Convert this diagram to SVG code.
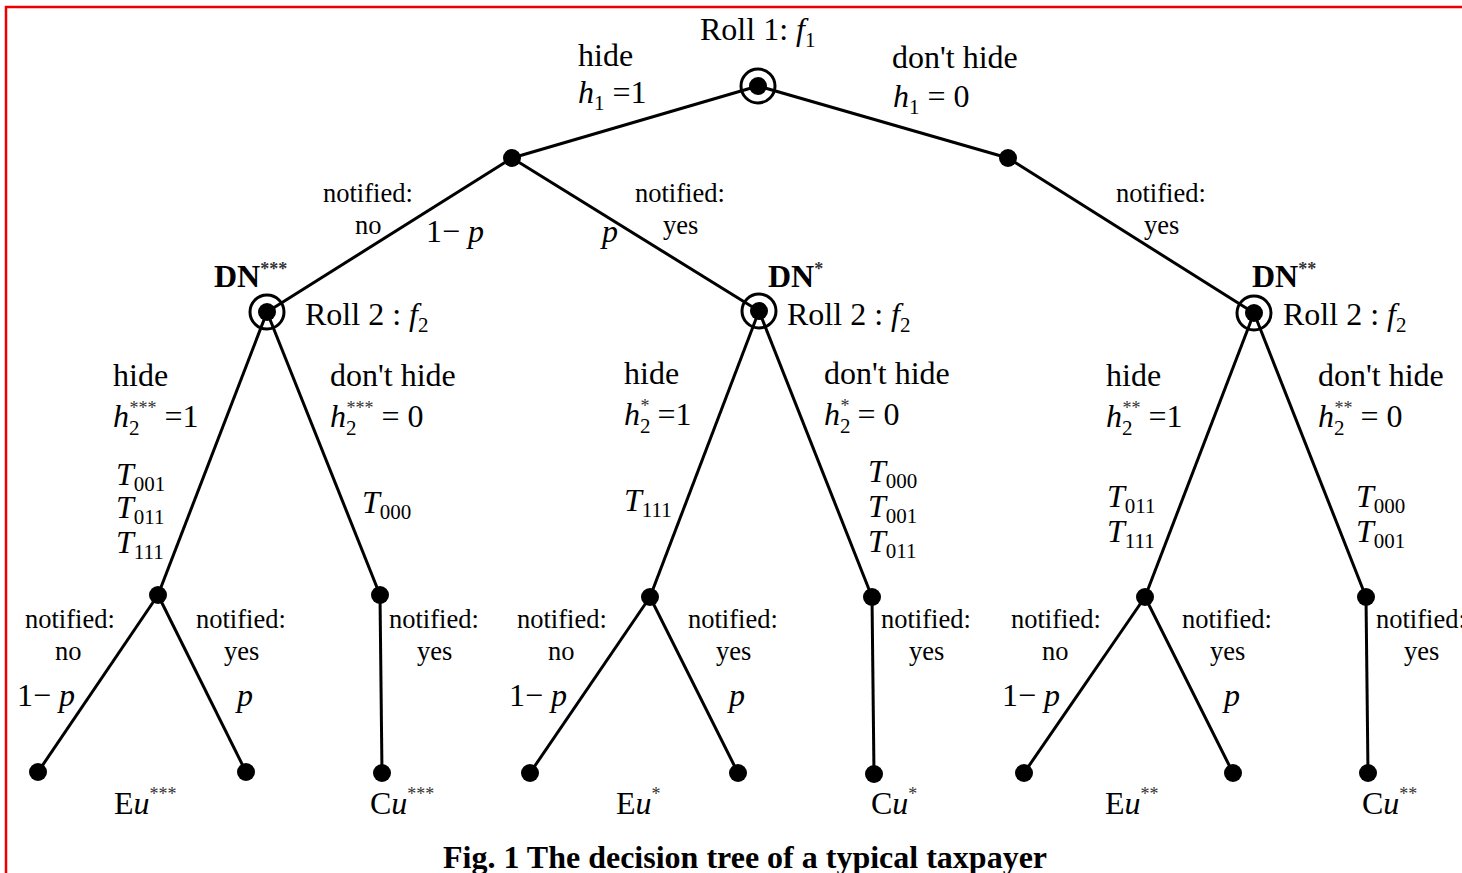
<svg xmlns="http://www.w3.org/2000/svg" width="1462" height="873" viewBox="0 0 1462 873">
<style>
.t{font-family:"Liberation Serif","Times New Roman",serif;font-size:32px;fill:#000}
.n{font-family:"Liberation Serif","Times New Roman",serif;font-size:26.5px;fill:#000}
.i{font-style:italic}
.sub{font-size:21px}
.sup{font-size:18px;fill:#333}
.b{font-weight:bold}
.e line{stroke:#000;stroke-width:3;fill:none}
.dot{fill:#000}
.ring{fill:none;stroke:#000;stroke-width:3}
</style>
<rect x="6" y="7" width="1470" height="880" fill="#fff" stroke="#e00" stroke-width="2.5"/>
<g id="connectors" class="e">
<line x1="758" y1="86" x2="512" y2="158"/>
<line x1="758" y1="86" x2="1008" y2="158"/>
<line x1="512" y1="158" x2="267" y2="312"/>
<line x1="512" y1="158" x2="759" y2="311"/>
<line x1="1008" y1="158" x2="1254" y2="313"/>
<line x1="267" y1="312" x2="158" y2="595"/>
<line x1="267" y1="312" x2="380" y2="595"/>
<line x1="158" y1="595" x2="38" y2="772"/>
<line x1="158" y1="595" x2="246" y2="772"/>
<line x1="380" y1="595" x2="382" y2="773"/>
<line x1="759" y1="311" x2="650" y2="597"/>
<line x1="759" y1="311" x2="872" y2="597"/>
<line x1="650" y1="597" x2="530" y2="773"/>
<line x1="650" y1="597" x2="738" y2="773"/>
<line x1="872" y1="597" x2="874" y2="774"/>
<line x1="1254" y1="313" x2="1145" y2="597"/>
<line x1="1254" y1="313" x2="1366" y2="597"/>
<line x1="1145" y1="597" x2="1024" y2="773"/>
<line x1="1145" y1="597" x2="1233" y2="773"/>
<line x1="1366" y1="597" x2="1368" y2="773"/>
</g>
<g id="root"><circle class="ring" cx="758" cy="86" r="17"/><circle class="dot" cx="758" cy="86" r="9"/>
<text class="t" x="700" y="40">Roll 1: <tspan class="i">f</tspan><tspan class="sub" dy="7">1</tspan></text></g>
<g id="nA"><circle class="dot" cx="512" cy="158" r="9"/></g>
<g id="nB"><circle class="dot" cx="1008" cy="158" r="9"/></g>
<g id="dn3"><circle class="ring" cx="267" cy="312" r="17"/><circle class="dot" cx="267" cy="312" r="9"/>
<text class="t b" x="214" y="287">DN<tspan class="sup" dy="-12">***</tspan></text>
<text class="t" x="305" y="325">Roll 2 : <tspan class="i">f</tspan><tspan class="sub" dy="7">2</tspan></text></g>
<g id="dn1"><circle class="ring" cx="759" cy="311" r="17"/><circle class="dot" cx="759" cy="311" r="9"/>
<text class="t b" x="768" y="287">DN<tspan class="sup" dy="-12">*</tspan></text>
<text class="t" x="787" y="325">Roll 2 : <tspan class="i">f</tspan><tspan class="sub" dy="7">2</tspan></text></g>
<g id="dn2"><circle class="ring" cx="1254" cy="313" r="17"/><circle class="dot" cx="1254" cy="313" r="9"/>
<text class="t b" x="1252" y="287">DN<tspan class="sup" dy="-12">**</tspan></text>
<text class="t" x="1283" y="325">Roll 2 : <tspan class="i">f</tspan><tspan class="sub" dy="7">2</tspan></text></g>
<g id="c1"><circle class="dot" cx="158" cy="595" r="9"/></g>
<g id="c2"><circle class="dot" cx="380" cy="595" r="9"/></g>
<g id="c3"><circle class="dot" cx="650" cy="597" r="9"/></g>
<g id="c4"><circle class="dot" cx="872" cy="597" r="9"/></g>
<g id="c5"><circle class="dot" cx="1145" cy="597" r="9"/></g>
<g id="c6"><circle class="dot" cx="1366" cy="597" r="9"/></g>
<g id="l1"><circle class="dot" cx="38" cy="772" r="9"/></g>
<g id="l2"><circle class="dot" cx="246" cy="772" r="9"/></g>
<g id="l3"><circle class="dot" cx="382" cy="773" r="9"/></g>
<g id="l4"><circle class="dot" cx="530" cy="773" r="9"/></g>
<g id="l5"><circle class="dot" cx="738" cy="773" r="9"/></g>
<g id="l6"><circle class="dot" cx="874" cy="774" r="9"/></g>
<g id="l7"><circle class="dot" cx="1024" cy="773" r="9"/></g>
<g id="l8"><circle class="dot" cx="1233" cy="773" r="9"/></g>
<g id="l9"><circle class="dot" cx="1368" cy="773" r="9"/></g>
<g id="labels">
<text class="t" x="578" y="66">hide</text>
<text class="t" x="578" y="103"><tspan class="i">h</tspan><tspan class="sub" dy="7">1</tspan><tspan dy="-7"> =1</tspan></text>
<text class="t" x="892" y="68">don't hide</text>
<text class="t" x="893" y="107"><tspan class="i">h</tspan><tspan class="sub" dy="7">1</tspan><tspan dy="-7"> = 0</tspan></text>
<text class="n" x="323" y="202">notified:</text>
<text class="n" x="355" y="234">no</text>
<text class="t" x="426" y="242">1− <tspan class="i">p</tspan></text>
<text class="n" x="635" y="202">notified:</text>
<text class="n" x="663" y="234">yes</text>
<text class="t i" x="602" y="242">p</text>
<text class="n" x="1116" y="202">notified:</text>
<text class="n" x="1144" y="234">yes</text>

<text class="t" x="113" y="386">hide</text>
<text class="t" x="113" y="427"><tspan class="i">h</tspan><tspan class="sub" dy="8">2</tspan><tspan class="sup" dx="-10" dy="-21">***</tspan><tspan dy="13"> =1</tspan></text>
<text class="t" x="116" y="485"><tspan class="i">T</tspan><tspan class="sub" dy="6">001</tspan></text>
<text class="t" x="116" y="518"><tspan class="i">T</tspan><tspan class="sub" dy="6">011</tspan></text>
<text class="t" x="116" y="553"><tspan class="i">T</tspan><tspan class="sub" dy="6">111</tspan></text>
<text class="t" x="330" y="386">don't hide</text>
<text class="t" x="330" y="427"><tspan class="i">h</tspan><tspan class="sub" dy="8">2</tspan><tspan class="sup" dx="-10" dy="-21">***</tspan><tspan dy="13"> = 0</tspan></text>
<text class="t" x="362" y="513"><tspan class="i">T</tspan><tspan class="sub" dy="6">000</tspan></text>

<text class="t" x="624" y="384">hide</text>
<text class="t" x="624" y="425"><tspan class="i">h</tspan><tspan class="sub" dy="8">2</tspan><tspan class="sup" dx="-10" dy="-21">*</tspan><tspan dy="13"> =1</tspan></text>
<text class="t" x="624" y="511"><tspan class="i">T</tspan><tspan class="sub" dy="6">111</tspan></text>
<text class="t" x="824" y="384">don't hide</text>
<text class="t" x="824" y="425"><tspan class="i">h</tspan><tspan class="sub" dy="8">2</tspan><tspan class="sup" dx="-10" dy="-21">*</tspan><tspan dy="13"> = 0</tspan></text>
<text class="t" x="868" y="482"><tspan class="i">T</tspan><tspan class="sub" dy="6">000</tspan></text>
<text class="t" x="868" y="517"><tspan class="i">T</tspan><tspan class="sub" dy="6">001</tspan></text>
<text class="t" x="868" y="552"><tspan class="i">T</tspan><tspan class="sub" dy="6">011</tspan></text>

<text class="t" x="1106" y="386">hide</text>
<text class="t" x="1106" y="427"><tspan class="i">h</tspan><tspan class="sub" dy="8">2</tspan><tspan class="sup" dx="-10" dy="-21">**</tspan><tspan dy="13"> =1</tspan></text>
<text class="t" x="1107" y="507"><tspan class="i">T</tspan><tspan class="sub" dy="6">011</tspan></text>
<text class="t" x="1107" y="542"><tspan class="i">T</tspan><tspan class="sub" dy="6">111</tspan></text>
<text class="t" x="1318" y="386">don't hide</text>
<text class="t" x="1318" y="427"><tspan class="i">h</tspan><tspan class="sub" dy="8">2</tspan><tspan class="sup" dx="-10" dy="-21">**</tspan><tspan dy="13"> = 0</tspan></text>
<text class="t" x="1356" y="507"><tspan class="i">T</tspan><tspan class="sub" dy="6">000</tspan></text>
<text class="t" x="1356" y="542"><tspan class="i">T</tspan><tspan class="sub" dy="6">001</tspan></text>

<text class="n" x="25" y="628">notified:</text>
<text class="n" x="55" y="660">no</text>
<text class="t" x="17" y="706">1− <tspan class="i">p</tspan></text>
<text class="n" x="196" y="628">notified:</text>
<text class="n" x="224" y="660">yes</text>
<text class="t i" x="237" y="706">p</text>
<text class="n" x="389" y="628">notified:</text>
<text class="n" x="417" y="660">yes</text>
<text class="t" x="114" y="814">E<tspan class="i">u</tspan><tspan class="sup" dy="-14">***</tspan></text>
<text class="t" x="370" y="814">C<tspan class="i">u</tspan><tspan class="sup" dy="-14">***</tspan></text>

<text class="n" x="517" y="628">notified:</text>
<text class="n" x="548" y="660">no</text>
<text class="t" x="509" y="706">1− <tspan class="i">p</tspan></text>
<text class="n" x="688" y="628">notified:</text>
<text class="n" x="716" y="660">yes</text>
<text class="t i" x="729" y="706">p</text>
<text class="n" x="881" y="628">notified:</text>
<text class="n" x="909" y="660">yes</text>
<text class="t" x="616" y="814">E<tspan class="i">u</tspan><tspan class="sup" dy="-14">*</tspan></text>
<text class="t" x="871" y="814">C<tspan class="i">u</tspan><tspan class="sup" dy="-14">*</tspan></text>

<text class="n" x="1011" y="628">notified:</text>
<text class="n" x="1042" y="660">no</text>
<text class="t" x="1002" y="706">1− <tspan class="i">p</tspan></text>
<text class="n" x="1182" y="628">notified:</text>
<text class="n" x="1210" y="660">yes</text>
<text class="t i" x="1224" y="706">p</text>
<text class="n" x="1376" y="628">notified:</text>
<text class="n" x="1404" y="660">yes</text>
<text class="t" x="1105" y="814">E<tspan class="i">u</tspan><tspan class="sup" dy="-14">**</tspan></text>
<text class="t" x="1362" y="814">C<tspan class="i">u</tspan><tspan class="sup" dy="-14">**</tspan></text>

<text class="t b" x="745" y="868" text-anchor="middle" font-size="30">Fig. 1 The decision tree of a typical taxpayer</text>
</g>
</svg>
